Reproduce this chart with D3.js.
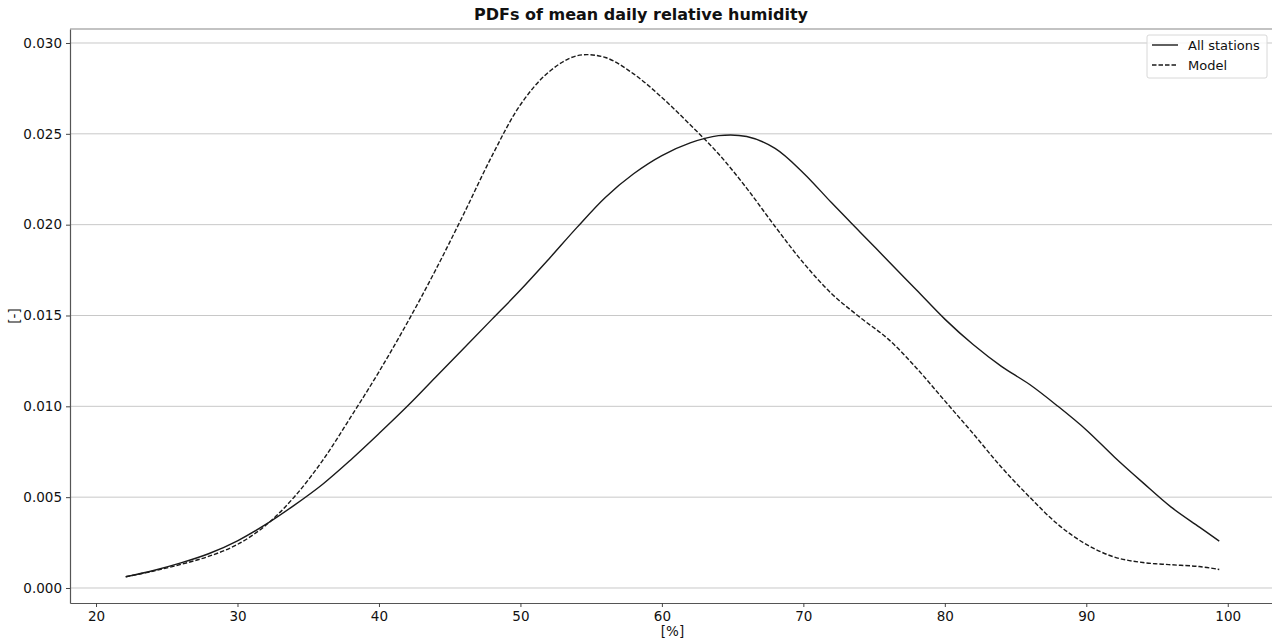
<!DOCTYPE html>
<html>
<head>
<meta charset="utf-8">
<script src="https://cdn.jsdelivr.net/npm/d3@7"></script>
<style>
  body { margin: 0; background: #fff; }
  svg text { font-family: "DejaVu Sans", sans-serif; fill: #111; }
</style>
</head>
<body>
<div id="chart"></div>
<script>
const humidity = [22.1, 24, 26, 28, 30, 32, 34, 36, 38, 40, 42, 44, 46, 48, 50, 52, 54, 56, 58, 60, 62, 64, 66, 68, 70, 72, 74, 76, 78, 80, 82, 84, 86, 88, 90, 92, 94, 96, 98, 99.4];

const allStations = [0.00062, 0.00095, 0.00138, 0.00190, 0.00260, 0.00350, 0.00455, 0.00570, 0.00705, 0.00850, 0.01000, 0.01160, 0.01320, 0.01480, 0.01640, 0.01810, 0.01985, 0.02150, 0.02280, 0.02380, 0.02450, 0.02490, 0.02485, 0.02420, 0.02285, 0.02120, 0.01960, 0.01800, 0.01640, 0.01480, 0.01340, 0.01220, 0.01120, 0.01000, 0.00870, 0.00720, 0.00580, 0.00445, 0.00335, 0.00258];

const model = [0.00062, 0.00092, 0.00130, 0.00175, 0.00240, 0.00345, 0.00500, 0.00700, 0.00940, 0.01190, 0.01460, 0.01750, 0.02060, 0.02380, 0.02660, 0.02840, 0.02930, 0.02920, 0.02830, 0.02700, 0.02550, 0.02390, 0.02200, 0.01990, 0.01790, 0.01620, 0.01490, 0.01370, 0.01210, 0.01030, 0.00850, 0.00665, 0.00500, 0.00350, 0.00240, 0.00170, 0.00140, 0.00128, 0.00118, 0.00102];

const xTicks = [20, 30, 40, 50, 60, 70, 80, 90, 100];
const yTicks = [0, 0.005, 0.010, 0.015, 0.020, 0.025, 0.030];

const seriesList = [
    {name: "All stations", values: allStations, dash: null},
    {name: "Model", values: model, dash: "4.5,2"}
];

const width = 1272, height = 642;
const margin = {top: 29, right: -3, bottom: 39, left: 70};
const innerW = width - margin.left - margin.right;
const innerH = height - margin.top - margin.bottom;

let svg = d3.select("#chart").append("svg")
    .attr("width", width)
    .attr("height", height);

let g = svg.append("g")
    .attr("transform", "translate(" + margin.left + "," + margin.top + ")");

// scales (matplotlib style 5% padding)
let x = d3.scaleLinear()
    .domain([18.16, 103.34])
    .range([0, innerW]);

let y = d3.scaleLinear()
    .domain([-0.000826, 0.03077])
    .range([innerH, 0]);

// horizontal grid
g.append("g")
    .selectAll("line")
    .data(yTicks)
    .enter().append("line")
    .attr("x1", 0)
    .attr("x2", innerW)
    .attr("y1", d => y(d))
    .attr("y2", d => y(d))
    .attr("stroke", "#c8c8c8")
    .attr("stroke-width", 1);

// curves
let line = d3.line()
    .curve(d3.curveCatmullRom.alpha(0.5))
    .x((d, i) => x(humidity[i]))
    .y(d => y(d));

seriesList.forEach(function(s) {
    g.append("path")
        .datum(s.values)
        .attr("fill", "none")
        .attr("stroke", "#1a1a1a")
        .attr("stroke-width", 1.4)
        .attr("stroke-dasharray", s.dash)
        .attr("d", line);
});

// axes
let xAxis = d3.axisBottom(x)
    .tickValues(xTicks)
    .tickSize(4)
    .tickSizeOuter(0)
    .tickPadding(4)
    .tickFormat(d3.format("d"));

let yAxis = d3.axisLeft(y)
    .tickValues(yTicks)
    .tickSize(4)
    .tickSizeOuter(0)
    .tickPadding(4)
    .tickFormat(d3.format(".3f"));

let gx = g.append("g")
    .attr("transform", "translate(0," + innerH + ")")
    .call(xAxis);
let gy = g.append("g").call(yAxis);

[gx, gy].forEach(function(a) {
    a.select(".domain").attr("stroke", "#555").attr("stroke-width", 1.2);
    a.selectAll(".tick line").attr("stroke", "#444");
    a.selectAll(".tick text")
        .style("font-size", "13.5px")
        .style("font-family", "DejaVu Sans, sans-serif")
        .attr("fill", "#111");
});

// top spine
g.append("line")
    .attr("x1", 0).attr("x2", innerW)
    .attr("y1", 0).attr("y2", 0)
    .attr("stroke", "#888")
    .attr("stroke-width", 1.2);

// title and axis labels
svg.append("text")
    .attr("x", 641)
    .attr("y", 20)
    .attr("text-anchor", "middle")
    .style("font-size", "16px")
    .style("font-weight", "bold")
    .text("PDFs of mean daily relative humidity");

svg.append("text")
    .attr("x", margin.left + innerW / 2)
    .attr("y", 636)
    .attr("text-anchor", "middle")
    .style("font-size", "13.5px")
    .text("[%]");

svg.append("text")
    .attr("transform", "translate(19," + (margin.top + innerH / 2) + ") rotate(-90)")
    .attr("text-anchor", "middle")
    .style("font-size", "13.5px")
    .text("[-]");

// legend
let legend = svg.append("g")
    .attr("transform", "translate(1147,35)");

legend.append("rect")
    .attr("width", 120)
    .attr("height", 43)
    .attr("rx", 2)
    .attr("fill", "#fff")
    .attr("fill-opacity", 0.8)
    .attr("stroke", "#d8d8d8");

seriesList.forEach(function(s, i) {
    legend.append("line")
        .attr("x1", 5).attr("x2", 31)
        .attr("y1", 10 + i * 20).attr("y2", 10 + i * 20)
        .attr("stroke", "#1a1a1a")
        .attr("stroke-width", 1.4)
        .attr("stroke-dasharray", s.dash);
    legend.append("text")
        .attr("x", 41)
        .attr("y", 15 + i * 20)
        .style("font-size", "13px")
        .text(s.name);
});
</script>
</body>
</html>
